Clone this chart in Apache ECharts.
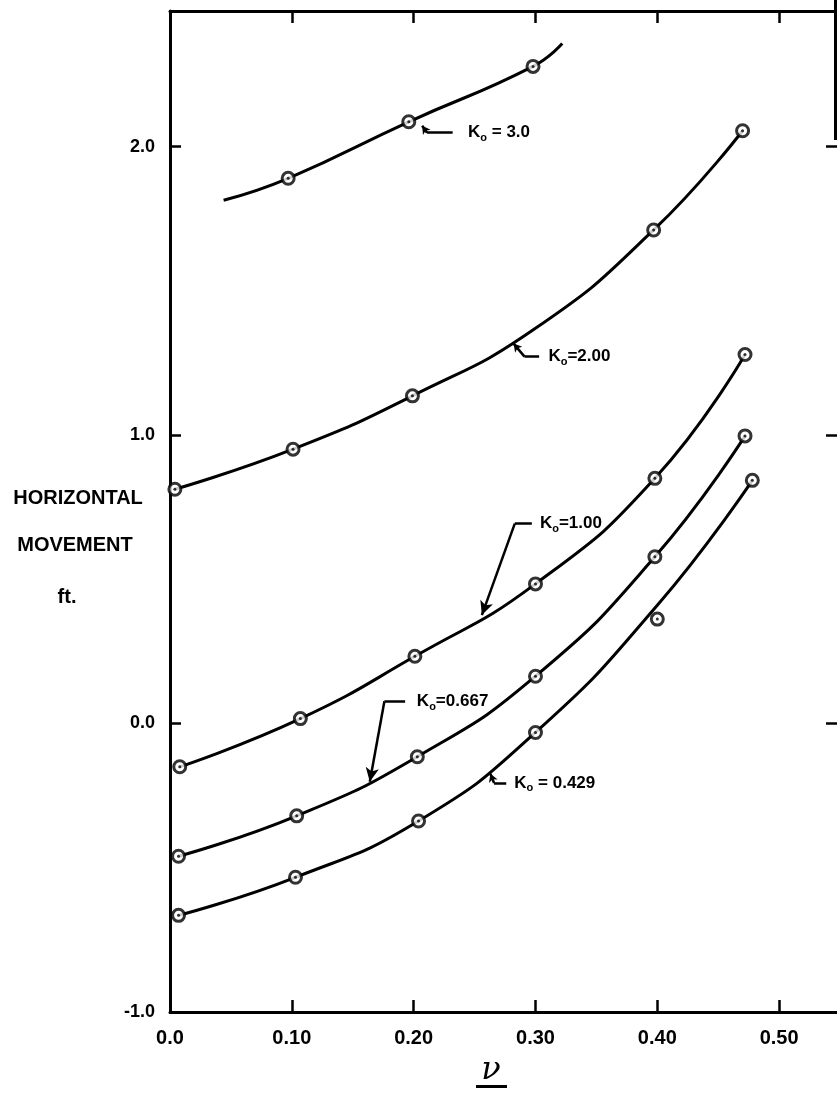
<!DOCTYPE html>
<html><head><meta charset="utf-8">
<script src="https://cdn.jsdelivr.net/npm/echarts@6/dist/echarts.min.js"></script>
<style>html,body{margin:0;padding:0;background:#fff}#c{width:837px;height:1095px}</style>
</head><body><div id="c"></div>
<script>
// ---- tick labels ----
const xTickValues = [0, 0.1, 0.2, 0.3, 0.4, 0.5];
const xTickLabels = ['0.0', '0.10', '0.20', '0.30', '0.40', '0.50'];
const yTickValues = [-1, 0, 1, 2];
const yTickLabels = ['-1.0', '0.0', '1.0', '2.0'];

// ---- measured data points [nu, horizontal movement ft] ----
const k30Points   = [[0.097, 1.89], [0.196, 2.086], [0.298, 2.278]];
const k200Points  = [[0.004, 0.812], [0.101, 0.951], [0.199, 1.136], [0.397, 1.711], [0.470, 2.055]];
const k100Points  = [[0.008, -0.15], [0.107, 0.017], [0.201, 0.233], [0.300, 0.484], [0.398, 0.850], [0.472, 1.279]];
const k0667Points = [[0.007, -0.46], [0.104, -0.32], [0.203, -0.115], [0.300, 0.164], [0.398, 0.578], [0.472, 0.997]];
const k0429Points = [[0.007, -0.665], [0.103, -0.533], [0.204, -0.338], [0.300, -0.031], [0.400, 0.362], [0.478, 0.843]];

// ---- fitted curves as drawn ----
const k30Curve   = [[0.044, 1.814], [0.097, 1.89], [0.196, 2.086], [0.298, 2.278], [0.322, 2.357]];
const k200Curve  = [[0.004, 0.812], [0.101, 0.951], [0.199, 1.136], [0.300, 1.37], [0.397, 1.711], [0.470, 2.055]];
const k100Curve  = [[0.008, -0.15], [0.107, 0.017], [0.201, 0.233], [0.300, 0.484], [0.398, 0.850], [0.472, 1.279]];
const k0667Curve = [[0.007, -0.46], [0.104, -0.32], [0.203, -0.115], [0.300, 0.164], [0.398, 0.578], [0.472, 0.997]];
const k0429Curve = [[0.007, -0.665], [0.103, -0.533], [0.204, -0.338], [0.300, -0.031], [0.400, 0.41], [0.478, 0.843]];

// ---- curve labels ----
const curveLabels = [' = 3.0', '=2.00', '=1.00', '=0.667', ' = 0.429'];
// leader lines in data coordinates: [tip, corner, end]
const leaderPaths = [
  [[0.207, 2.072], [0.211, 2.048], [0.232, 2.048]],
  [[0.282, 1.317], [0.291, 1.272], [0.303, 1.272]],
  [[0.256, 0.376], [0.283, 0.693], [0.297, 0.693]],
  [[0.164, -0.202], [0.176, 0.077], [0.193, 0.077]],
  [[0.263, -0.174], [0.266, -0.206], [0.276, -0.206]]
];
const labelAnchors = [[0.243, 2.048], [0.309, 1.272], [0.302, 0.693], [0.201, 0.077], [0.281, -0.206]];
const bigArrow = [false, false, true, true, false];

const FONT = '"Liberation Sans", Arial, sans-serif';
const chart = echarts.init(document.getElementById('c'), null, {renderer: 'canvas'});

function fmtX(v) { const i = xTickValues.findIndex(t => Math.abs(t - v) < 1e-6); return i >= 0 ? xTickLabels[i] : ''; }
function fmtY(v) { const i = yTickValues.findIndex(t => Math.abs(t - v) < 1e-6); return i >= 0 ? yTickLabels[i] : ''; }

const curves = [k30Curve, k200Curve, k100Curve, k0667Curve, k0429Curve];
const points = [k30Points, k200Points, k100Points, k0667Points, k0429Points];

const series = [];
curves.forEach((c, i) => {
  const p = leaderPaths[i];
  const sz = bigArrow[i] ? [10, 14] : [7, 8];
  series.push({
    type: 'line', data: c, smooth: 0.5, showSymbol: false, symbol: 'none',
    lineStyle: {color: '#000', width: 3}, z: 2, silent: true, animation: false,
    markLine: {
      silent: true, animation: false,
      lineStyle: {color: '#000', width: 2.5, type: 'solid'},
      label: {show: false},
      data: [
        [{coord: p[0], symbol: 'arrow', symbolSize: sz}, {coord: p[1], symbol: 'none'}],
        [{coord: p[1], symbol: 'none'}, {coord: p[2], symbol: 'none'}]
      ]
    },
    markPoint: {
      silent: true, animation: false,
      data: [{
        coord: labelAnchors[i], symbol: 'circle', symbolSize: 0,
        label: {
          show: true, position: 'right', distance: 2,
          formatter: '{k|K}{s|o}{k|' + curveLabels[i] + '}',
          rich: {
            k: {fontFamily: FONT, fontWeight: 'bold', fontSize: 17, color: '#000', lineHeight: 22},
            s: {fontFamily: FONT, fontWeight: 'bold', fontSize: 11, color: '#000', lineHeight: 12, verticalAlign: 'bottom'}
          }
        }
      }]
    }
  });
});
points.forEach(p => {
  series.push({
    type: 'scatter', data: p, symbol: 'circle', symbolSize: 12,
    itemStyle: {color: '#fff', borderColor: '#000', borderWidth: 3}, z: 3, silent: true, animation: false
  });
  series.push({
    type: 'scatter', data: p, symbol: 'circle', symbolSize: 3,
    itemStyle: {color: '#000'}, z: 4, silent: true, animation: false
  });
});

const axisLineStyle = {color: '#000', width: 3};
const option = {
  backgroundColor: '#fff',
  animation: false,
  grid: {left: 170, right: -1, top: 11, bottom: 83, containLabel: false},
  xAxis: [
    {
      type: 'value', position: 'bottom', min: 0, max: 0.5475, interval: 0.1,
      axisLine: {show: true, onZero: false, lineStyle: axisLineStyle},
      axisTick: {show: true, inside: true, length: 12, lineStyle: {color: '#000', width: 2.5}},
      axisLabel: {show: true, margin: 16, color: '#000', fontFamily: FONT, fontWeight: 'bold', fontSize: 20,
                  formatter: fmtX, showMaxLabel: false},
      splitLine: {show: false}
    },
    {
      type: 'value', position: 'top', min: 0, max: 0.5475, interval: 0.1,
      axisLine: {show: true, onZero: false, lineStyle: axisLineStyle},
      axisTick: {show: true, inside: true, length: 12, lineStyle: {color: '#000', width: 2.5}},
      axisLabel: {show: false}, splitLine: {show: false}
    }
  ],
  yAxis: [
    {
      type: 'value', position: 'left', min: -1, max: 2.47, interval: 1,
      axisLine: {show: true, onZero: false, lineStyle: axisLineStyle},
      axisTick: {show: true, inside: true, length: 11, lineStyle: {color: '#000', width: 2.5}},
      axisLabel: {show: true, margin: 15, color: '#000', fontFamily: FONT, fontWeight: 'bold', fontSize: 18,
                  formatter: fmtY, showMaxLabel: false},
      splitLine: {show: false}
    },
    {
      type: 'value', position: 'right', min: -1, max: 2.47, interval: 1,
      axisLine: {show: false, onZero: false, lineStyle: axisLineStyle},
      axisTick: {show: true, inside: true, length: 11, lineStyle: {color: '#000', width: 2.5}},
      axisLabel: {show: false}, splitLine: {show: false}
    }
  ],
  graphic: [
    {type: 'text', x: 78, y: 498, style: {text: 'HORIZONTAL', fill: '#000', font: 'bold 20px ' + FONT, textAlign: 'center', textVerticalAlign: 'middle'}},
    {type: 'text', x: 75, y: 545, style: {text: 'MOVEMENT', fill: '#000', font: 'bold 20px ' + FONT, textAlign: 'center', textVerticalAlign: 'middle'}},
    {type: 'text', x: 67, y: 597, style: {text: 'ft.', fill: '#000', font: 'bold 20px ' + FONT, textAlign: 'center', textVerticalAlign: 'middle'}},
    {type: 'text', x: 491, y: 1071, style: {text: 'ν', fill: '#000', font: 'italic 32px "DejaVu Serif", serif', textAlign: 'center', textVerticalAlign: 'middle'}},
    {type: 'rect', shape: {x: 476, y: 1085, width: 31, height: 3}, style: {fill: '#000'}},
    {type: 'rect', shape: {x: 834, y: 0, width: 3, height: 140}, style: {fill: '#000'}}
  ],
  series: series
};
chart.setOption(option);
</script>
</body></html>
